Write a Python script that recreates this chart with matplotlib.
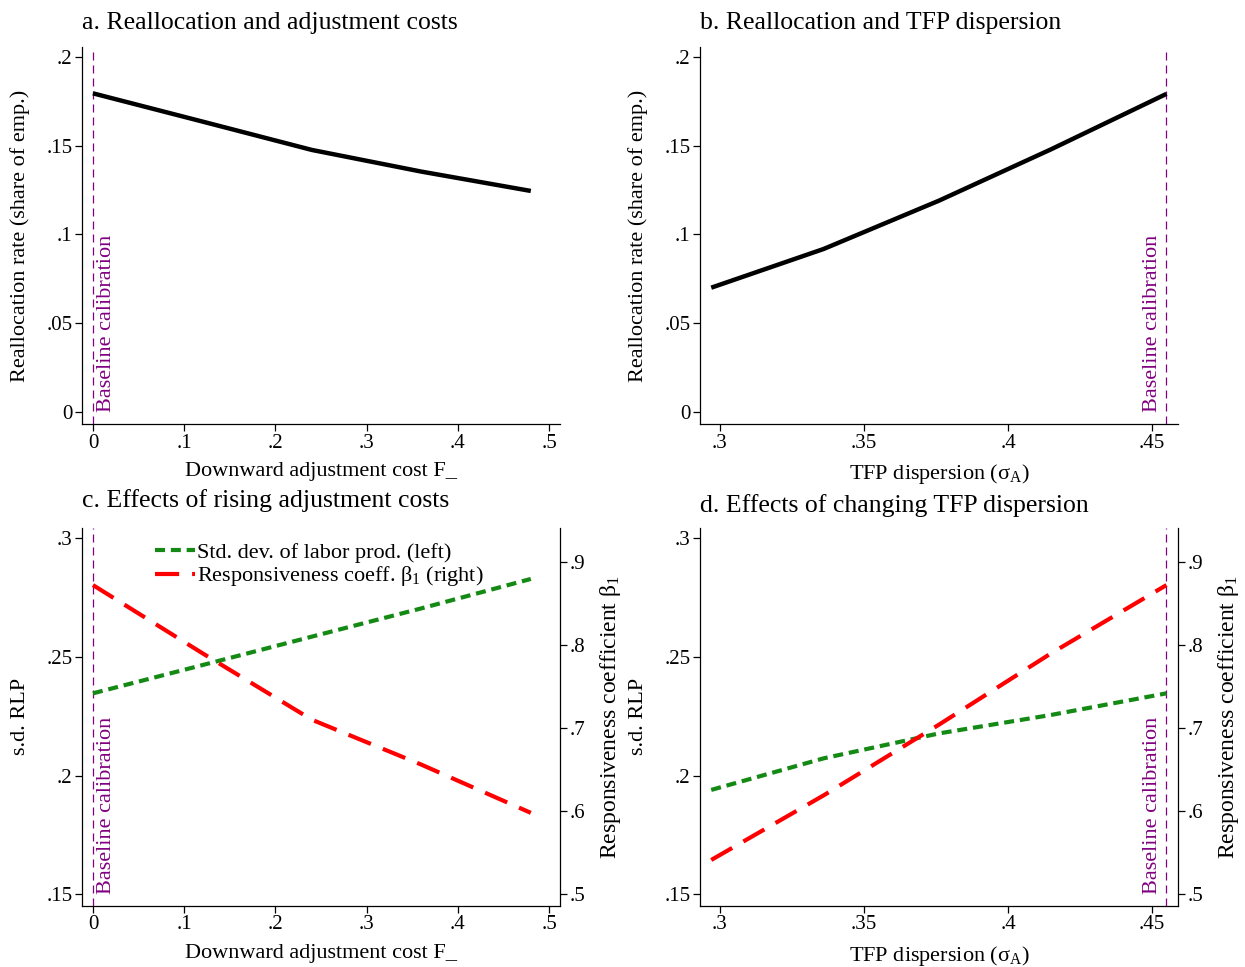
import matplotlib
matplotlib.use('Agg')
import matplotlib.pyplot as plt

plt.rcParams['font.family'] = ['Liberation Serif', 'DejaVu Serif']
plt.rcParams['mathtext.fontset'] = 'custom'
plt.rcParams['mathtext.rm'] = 'Liberation Serif'
plt.rcParams['mathtext.it'] = 'Liberation Serif:italic'

# ---- data ----
adj_cost = [0.0, 0.12, 0.24, 0.36, 0.48]
realloc_adj = [0.1795, 0.1636, 0.1476, 0.1354, 0.1245]
sd_rlp_adj = [0.2347, 0.2466, 0.2586, 0.2705, 0.2829]
beta_adj = [0.872, 0.790, 0.710, 0.656, 0.598]

tfp_disp = [0.297, 0.336, 0.376, 0.415, 0.455]
realloc_tfp = [0.0700, 0.0918, 0.1190, 0.1480, 0.1792]
sd_rlp_tfp = [0.1940, 0.2073, 0.2178, 0.2256, 0.2347]
beta_tfp = [0.5413, 0.619, 0.704, 0.790, 0.872]

baseline_adj = 0.0
baseline_tfp = 0.455

adj_ticks = [0, 0.1, 0.2, 0.3, 0.4, 0.5]
adj_ticklabels = ['0', '.1', '.2', '.3', '.4', '.5']
tfp_ticks = [0.3, 0.35, 0.4, 0.45]
tfp_ticklabels = ['.3', '.35', '.4', '.45']
realloc_ticks = [0, 0.05, 0.1, 0.15, 0.2]
realloc_ticklabels = ['0', '.05', '.1', '.15', '.2']
sd_ticks = [0.15, 0.2, 0.25, 0.3]
sd_ticklabels = ['.15', '.2', '.25', '.3']
beta_ticks = [0.5, 0.6, 0.7, 0.8, 0.9]
beta_ticklabels = ['.5', '.6', '.7', '.8', '.9']

titles = ['a. Reallocation and adjustment costs',
          'b. Reallocation and TFP dispersion',
          'c. Effects of rising adjustment costs',
          'd. Effects of changing TFP dispersion']
xlab_adj = 'Downward adjustment cost F_'
xlab_tfp = r'TFP dispersion (σ$_{\mathrm{A}}$)'

PURPLE = '#800080'
GREEN = '#148a14'
RED = '#ff0000'
TITLE_FS = 18.5
LAB_FS = 16
TICK_FS = 15


def style_axis(ax, xticks, xticklabels, yticks, yticklabels, xlim, ylim):
    ax.set_xlim(xlim)
    ax.set_ylim(ylim)
    ax.set_xticks(xticks)
    ax.set_xticklabels(xticklabels, fontsize=TICK_FS)
    ax.set_yticks(yticks)
    ax.set_yticklabels(yticklabels, fontsize=TICK_FS)
    ax.spines['top'].set_visible(False)
    ax.spines['right'].set_visible(False)
    for s in ('left', 'bottom'):
        ax.spines[s].set_linewidth(0.9)
    ax.tick_params(direction='out', length=5, width=0.9, pad=2)
    ax.xaxis.set_label_coords(0.5, -0.1)
    ax.yaxis.set_label_coords(-0.108, 0.5)


def baseline(ax, x, y, side):
    ax.axvline(x, color=PURPLE, lw=0.9, dashes=(6.4, 4.0), zorder=1)
    off = 3 if side == 'right' else -3
    ax.annotate('Baseline calibration', xy=(x, y), xytext=(off, 0),
                textcoords='offset points', rotation=90, color=PURPLE,
                fontsize=LAB_FS, ha='left' if side == 'right' else 'right',
                va='bottom')


fig = plt.figure(figsize=(12.45, 9.67), dpi=100)
left_x = [82 / 1245, 700 / 1245]
w = 478 / 1245
top_y, bot_y = 1 - 424 / 967, 1 - 905.7 / 967
h_top = 377 / 967
h_bot = 378 / 967

xlim_adj = (-0.012, 0.512)
xlim_tfp = (0.2931, 0.459)
ylim_realloc = (-0.0068, 0.2056)
ylim_sd = (0.1452, 0.3045)
ylim_beta = (0.4863, 0.941)

# panel a
ax = fig.add_axes([left_x[0], top_y, w, h_top])
ax.plot(adj_cost, realloc_adj, color='black', lw=3.2, solid_capstyle='butt', zorder=3)
style_axis(ax, adj_ticks, adj_ticklabels, realloc_ticks, realloc_ticklabels,
           xlim_adj, ylim_realloc)
baseline(ax, baseline_adj, 0, 'right')
ax.set_xlabel(xlab_adj, fontsize=LAB_FS)
ax.set_ylabel('Reallocation rate (share of emp.)', fontsize=LAB_FS)
ax.set_title(titles[0], fontsize=TITLE_FS, loc='left', pad=13)

# panel b
ax = fig.add_axes([left_x[1], top_y, w, h_top])
ax.plot(tfp_disp, realloc_tfp, color='black', lw=3.2, solid_capstyle='butt', zorder=3)
style_axis(ax, tfp_ticks, tfp_ticklabels, realloc_ticks, realloc_ticklabels,
           xlim_tfp, ylim_realloc)
baseline(ax, baseline_tfp, 0, 'left')
ax.set_xlabel(xlab_tfp, fontsize=LAB_FS)
ax.set_ylabel('Reallocation rate (share of emp.)', fontsize=LAB_FS)
ax.set_title(titles[1], fontsize=TITLE_FS, loc='left', pad=13)


def bottom_panel(x0, xs, sd, beta, xticks, xticklabels, xlim, xlabel, title,
                 base_x, side, legend, tpad):
    ax = fig.add_axes([x0, bot_y, w, h_bot])
    style_axis(ax, xticks, xticklabels, sd_ticks, sd_ticklabels, xlim, ylim_sd)
    l1, = ax.plot(xs, sd, color=GREEN, lw=3, dashes=(2.4, 1.4), zorder=3,
                  label='Std. dev. of labor prod. (left)')
    baseline(ax, base_x, 0.15, side)
    ax.set_xlabel(xlabel, fontsize=LAB_FS)
    ax.set_ylabel('s.d. RLP', fontsize=LAB_FS)
    ax.set_title(title, fontsize=TITLE_FS, loc='left', pad=tpad)

    ax2 = ax.twinx()
    l2, = ax2.plot(xs, beta, color=RED, lw=3, dashes=(5.8, 3.1), zorder=3,
                   label=r'Responsiveness coeff. β$_{1}$ (right)')
    ax2.set_xlim(xlim)
    ax2.set_ylim(ylim_beta)
    ax2.set_yticks(beta_ticks)
    ax2.set_yticklabels(beta_ticklabels, fontsize=TICK_FS)
    ax2.spines['top'].set_visible(False)
    ax2.spines['left'].set_visible(False)
    ax2.spines['bottom'].set_visible(False)
    ax2.spines['right'].set_linewidth(0.9)
    ax2.tick_params(direction='out', length=5, width=0.9, pad=2)
    ax2.set_ylabel(r'Responsiveness coefficient β$_{1}$', fontsize=17)
    ax2.yaxis.set_label_coords(1.08, 0.5)
    if legend:
        ax2.legend(handles=[l1, l2], loc='upper left', bbox_to_anchor=(0.152, 0.962),
                   frameon=False, fontsize=16, handlelength=1.8,
                   handletextpad=0.12, labelspacing=0.08, borderpad=0,
                   borderaxespad=0)


bottom_panel(left_x[0], adj_cost, sd_rlp_adj, beta_adj, adj_ticks, adj_ticklabels,
             xlim_adj, xlab_adj, titles[2], baseline_adj, 'right', True, 15)
bottom_panel(left_x[1], tfp_disp, sd_rlp_tfp, beta_tfp, tfp_ticks, tfp_ticklabels,
             xlim_tfp, xlab_tfp, titles[3], baseline_tfp, 'left', False, 11)

fig.savefig('out.png', dpi=100)
